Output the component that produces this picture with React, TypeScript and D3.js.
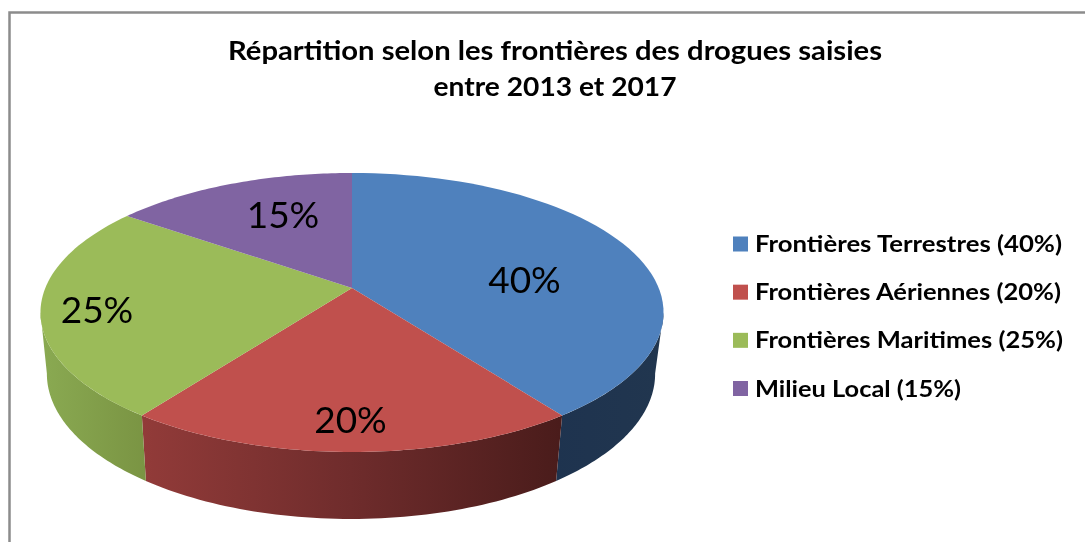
import React from "react";
import * as d3 from "d3";

const titleLines = ["Répartition selon les frontières des drogues saisies", "entre 2013 et 2017"];
const categories = ["Frontières Terrestres (40%)", "Frontières Aériennes (20%)", "Frontières Maritimes (25%)", "Milieu Local (15%)"];
const shares = [40, 20, 25, 15];
const sliceLabels = ["40%", "20%", "25%", "15%"];
const topColors = ["#4f81bd", "#c0504d", "#9bbb59", "#8064a2"];

const WIDTH = 1085;
const HEIGHT = 542;
const labelAt: [number, number][] = [[524.5, 278], [350.5, 418.5], [97, 308.5], [283, 213.5]];
const titleWidths = [654, 243];
const titleBaselines = [60, 96];
const legendWidths = [307, 306, 308, 206];

const pieLayout = d3.pie<number>().sort(null)(shares);

// Perspective projection of a circle angle (clockwise from 12 o'clock) onto a disc.
const projTop = (t: number): [number, number] => {
  const w = 1 + 0.1756 * Math.cos(t);
  return [352 + (306.7 * Math.sin(t)) / w, 288 - (135.2 * Math.cos(t)) / w];
};
const projBottom = (t: number): [number, number] => {
  const w = 1 + 0.1756 * Math.cos(t);
  return [351 + (299.4 * Math.sin(t)) / w, 348.3 - (140.7 * Math.cos(t)) / w];
};

const samples = (a: number, b: number) => d3.range(0, 61).map((i) => a + ((b - a) * i) / 60);
const lineGen = d3.line();

const wallMin = (100 * Math.PI) / 180;
const wallMax = (260 * Math.PI) / 180;

const wallPath = (a: number, b: number) => {
  const s = Math.max(a, wallMin);
  const e = Math.min(b, wallMax);
  if (e <= s) return null;
  const ts = samples(s, e);
  return lineGen([...ts.map(projTop), ...ts.slice().reverse().map(projBottom)])! + "Z";
};
const topPath = (a: number, b: number) => lineGen([[352, 288], ...samples(a, b).map(projTop)])! + "Z";

const wallFills = ["url(#wallBlue)", "url(#wallRed)", "url(#wallGreen)", "none"];

const legendY = d3.scalePoint<string>().domain(categories).range([244, 388.5]);

export default function App() {
  return (
    <svg width={WIDTH} height={HEIGHT} viewBox={`0 0 ${WIDTH} ${HEIGHT}`} style={{ position: "absolute", left: 0, top: 0, background: "#fff" }}>
      <defs>
        <linearGradient id="wallBlue" gradientUnits="userSpaceOnUse" x1="550" x2="660" y1="0" y2="0">
          <stop offset="0" stopColor="#1e334f" />
          <stop offset="1" stopColor="#21364f" />
        </linearGradient>
        <linearGradient id="wallRed" gradientUnits="userSpaceOnUse" x1="141" x2="560" y1="0" y2="0">
          <stop offset="0" stopColor="#923b39" />
          <stop offset="0.5" stopColor="#6f2c2c" />
          <stop offset="1" stopColor="#4a1c1b" />
        </linearGradient>
        <linearGradient id="wallGreen" gradientUnits="userSpaceOnUse" x1="40" x2="146" y1="0" y2="0">
          <stop offset="0" stopColor="#8aaa52" />
          <stop offset="1" stopColor="#7a9443" />
        </linearGradient>
        <filter id="soft" x="-5%" y="-20%" width="110%" height="140%">
          <feGaussianBlur stdDeviation="0.45" />
        </filter>
      </defs>
      <path d={`M9.5,${HEIGHT}V12.5H${WIDTH}`} fill="none" stroke="#8c8c8c" strokeWidth={2.5} />
      {pieLayout.map((d, i) => {
        const p = wallPath(d.startAngle, d.endAngle);
        return p ? <path key={i} d={p} fill={wallFills[i]} /> : null;
      })}
      {pieLayout.map((d, i) => (
        <path key={i} d={topPath(d.startAngle, d.endAngle)} fill={topColors[i]} />
      ))}
      <g filter="url(#soft)" fill="#000">
        {sliceLabels.map((s, i) => (
          <text key={s} x={labelAt[i][0]} y={labelAt[i][1]} textAnchor="middle" dominantBaseline="central" fontFamily="Lato" fontWeight={400} fontSize={37}>
            {s}
          </text>
        ))}
        {titleLines.map((t, i) => (
          <text key={t} x={555} y={titleBaselines[i]} textAnchor="middle" fontFamily="Lato" fontWeight={700} fontSize={27} textLength={titleWidths[i]} lengthAdjust="spacingAndGlyphs">
            {t}
          </text>
        ))}
        {categories.map((c, i) => (
          <text key={c} x={755} y={legendY(c)! + 8} fontFamily="Lato" fontWeight={700} fontSize={23} textLength={legendWidths[i]} lengthAdjust="spacingAndGlyphs">
            {c}
          </text>
        ))}
      </g>
      {categories.map((c, i) => (
        <rect key={c} x={733} y={legendY(c)! - 7.5} width={15} height={15} fill={topColors[i]} />
      ))}
    </svg>
  );
}
